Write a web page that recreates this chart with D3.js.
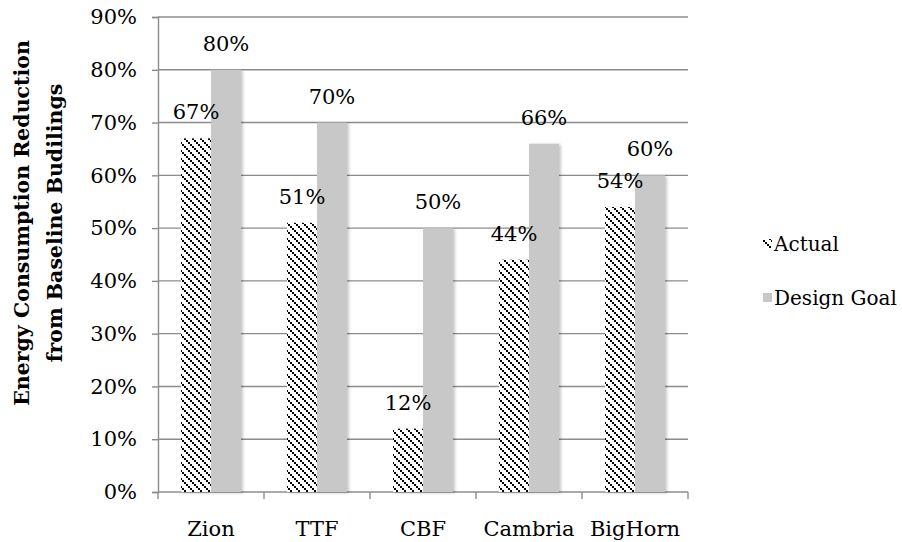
<!DOCTYPE html>
<html>
<head>
<meta charset="utf-8">
<script src="https://cdn.jsdelivr.net/npm/d3@7/dist/d3.min.js"></script>
<style>
  html, body { margin: 0; padding: 0; background: #fff; }
  svg { display: block; }
  text { font-family: "DejaVu Serif", "Liberation Serif", serif; fill: #000; }
</style>
</head>
<body>
<svg id="chart" width="902" height="542"></svg>
<script>
// Buildings and their energy reduction figures (percent)
const categories = ["Zion", "TTF", "CBF", "Cambria", "BigHorn"];
const actual = [67, 51, 12, 44, 54];
const designGoal = [80, 70, 50, 66, 60];
const seriesNames = ["Actual", "Design Goal"];
const yTickValues = [0, 10, 20, 30, 40, 50, 60, 70, 80, 90];
const yTitleLines = ["Energy Consumption Reduction", "from Baseline Budilings"];

const svg = d3.select("#chart");
const plot = { left: 158, right: 688, top: 17, bottom: 492 };
const gridColor = "#8c8c8c";
const goalColor = "#c8c8c8";

// Downward diagonal hatch: staircase of 2px dots, 8px apart
const defs = svg.append("defs");
const hatch = defs.append("pattern")
  .attr("id", "hatch")
  .attr("patternUnits", "userSpaceOnUse")
  .attr("width", 8).attr("height", 8);
hatch.append("rect").attr("width", 8).attr("height", 8).attr("fill", "#fff");
[0, 2, 4, 6].forEach(k => {
  hatch.append("rect").attr("x", k).attr("y", k).attr("width", 2).attr("height", 2).attr("fill", "#000");
});
const shadow = defs.append("filter").attr("id", "barShadow")
  .attr("x", "-20%").attr("y", "-5%").attr("width", "150%").attr("height", "115%");
shadow.append("feDropShadow")
  .attr("dx", 2).attr("dy", 1).attr("stdDeviation", 1.5)
  .attr("flood-color", "#000").attr("flood-opacity", 0.22);

// Scales
const x = d3.scaleBand().domain(categories).range([plot.left, plot.right]).paddingInner(0).paddingOuter(0);
const xSeries = d3.scaleBand().domain(seriesNames).range([0, x.bandwidth()]).paddingInner(0).paddingOuter(0.77);
const y = d3.scaleLinear().domain([0, 90]).range([plot.bottom, plot.top]);
const fmt = v => v + "%";

// Horizontal gridlines
svg.append("g").selectAll("line")
  .data(yTickValues.filter(v => v > 0))
  .join("line")
  .attr("x1", plot.left).attr("x2", plot.right)
  .attr("y1", d => y(d)).attr("y2", d => y(d))
  .attr("stroke", gridColor).attr("stroke-width", 1.4);

// Y axis
const yAxis = svg.append("g")
  .attr("transform", `translate(${plot.left},0)`)
  .call(d3.axisLeft(y).tickValues(yTickValues).tickFormat(fmt).tickSize(6).tickPadding(15));
yAxis.select(".domain").attr("stroke", gridColor).attr("stroke-width", 1.4);
yAxis.selectAll(".tick line").attr("stroke", gridColor).attr("stroke-width", 1.4);
yAxis.selectAll(".tick text").attr("font-size", 21).attr("font-family", "DejaVu Serif").attr("fill", "#000");

// X axis with ticks at category boundaries
const xAxisG = svg.append("g").attr("transform", `translate(0,${plot.bottom})`);
xAxisG.append("line")
  .attr("x1", plot.left).attr("x2", plot.right)
  .attr("stroke", gridColor).attr("stroke-width", 1.4);
const boundaries = categories.map(c => x(c)).concat([x(categories[categories.length - 1]) + x.bandwidth()]);
xAxisG.selectAll("line.tk").data(boundaries).join("line").attr("class", "tk")
  .attr("x1", d => d).attr("x2", d => d).attr("y1", 0).attr("y2", 7)
  .attr("stroke", gridColor).attr("stroke-width", 1.4);
xAxisG.selectAll("text").data(categories).join("text")
  .attr("x", d => x(d) + x.bandwidth() / 2)
  .attr("y", 44)
  .attr("text-anchor", "middle")
  .attr("font-size", 21)
  .text(d => d);

// Bars
const rows = categories.map((c, i) => ({ category: c, values: [
  { series: "Actual", value: actual[i] },
  { series: "Design Goal", value: designGoal[i] }
]}));
const fills = { "Actual": "url(#hatch)", "Design Goal": goalColor };

const groups = svg.append("g").selectAll("g")
  .data(rows).join("g")
  .attr("transform", d => `translate(${x(d.category)},0)`);

groups.selectAll("rect")
  .data(d => d.values)
  .join("rect")
  .attr("x", d => xSeries(d.series))
  .attr("y", d => y(d.value))
  .attr("width", xSeries.bandwidth())
  .attr("height", d => y(0) - y(d.value))
  .attr("fill", d => fills[d.series])
  .attr("filter", "url(#barShadow)");

// Value labels above each bar
groups.selectAll("text")
  .data(d => d.values)
  .join("text")
  .attr("x", d => xSeries(d.series) + xSeries.bandwidth() / 2)
  .attr("y", d => y(d.value) - 19)
  .attr("text-anchor", "middle")
  .attr("font-size", 21)
  .text(d => fmt(d.value));

// Y axis title
const yTitle = svg.append("text")
  .attr("transform", "translate(22,223) rotate(-90)")
  .attr("text-anchor", "middle")
  .attr("font-weight", "bold")
  .attr("font-size", 20.5);
yTitle.selectAll("tspan").data(yTitleLines).join("tspan")
  .attr("x", 0)
  .attr("dy", (d, i) => i === 0 ? "0.35em" : "1.6em")
  .text(d => d);

// Legend
const legend = svg.append("g").attr("transform", "translate(763,0)");
const legendY = [244, 298];
seriesNames.forEach((name, i) => {
  legend.append("rect")
    .attr("x", 0).attr("y", legendY[i] - 5)
    .attr("width", 9).attr("height", 9)
    .attr("fill", fills[name]);
  legend.append("text")
    .attr("x", 11).attr("y", legendY[i])
    .attr("dy", "0.35em")
    .attr("font-size", 20)
    .text(name);
});
</script>
</body>
</html>
